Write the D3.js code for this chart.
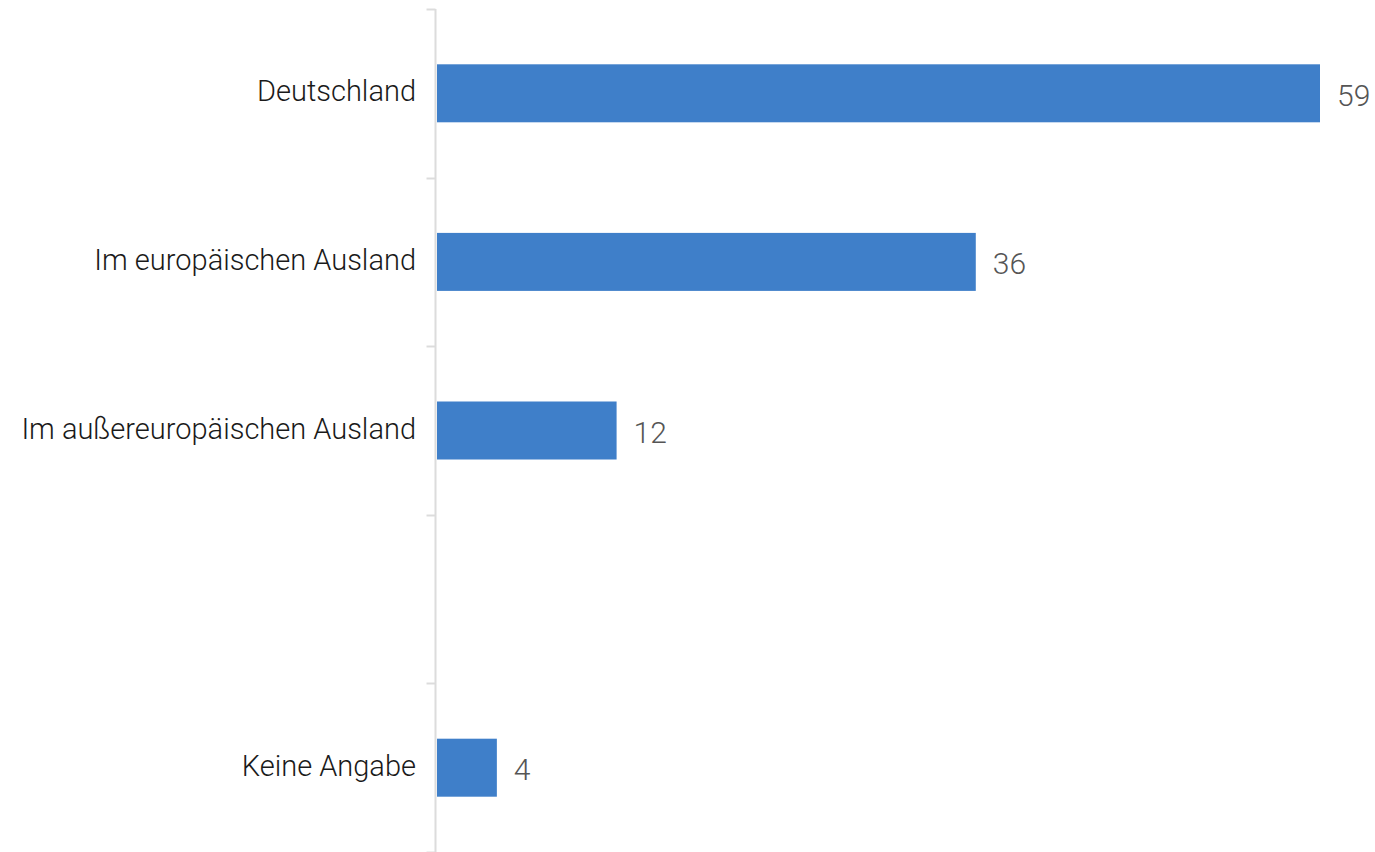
<!DOCTYPE html>
<html>
<head>
<meta charset="utf-8">
<script src="https://cdn.jsdelivr.net/npm/d3@7"></script>
<style>
  body { margin: 0; background: #fff; }
  text { font-family: Roboto, sans-serif; font-weight: 300; }
</style>
</head>
<body>
<script>
//chart data
var categories = ["Deutschland", "Im europäischen Ausland", "Im außereuropäischen Ausland", "", "Keine Angabe"];
var values = [59, 36, 12, null, 4];

var width = 1375,
    height = 852;

var svg = d3.select("body")
    .append("svg")
    .attr("width", width)
    .attr("height", height);

//band per category, the blank one leaves a gap
var y = d3.scaleBand()
    .domain(d3.range(categories.length))
    .range([9, 852])
    .paddingInner(0.656)
    .paddingOuter(0.328);

var x = d3.scaleLinear()
    .domain([0, 59])
    .range([437, 1320]);

var axisX = 435.5;

//axis line
svg.append("line")
    .attr("x1", axisX).attr("x2", axisX)
    .attr("y1", 9).attr("y2", height)
    .attr("stroke", "#dcdcdc")
    .attr("stroke-width", 2);

//tick marks at band boundaries
var step = y.step();
var bounds = d3.range(categories.length + 1).map(function(i){ return 9 + i * step; });
svg.selectAll(".tick-mark")
    .data(bounds)
    .enter()
    .append("line")
    .attr("class", "tick-mark")
    .attr("x1", axisX - 9).attr("x2", axisX)
    .attr("y1", function(d){ return Math.round(d) + 0.5; })
    .attr("y2", function(d){ return Math.round(d) + 0.5; })
    .attr("stroke", "#dcdcdc")
    .attr("stroke-width", 2);

//category labels
svg.selectAll(".cat")
    .data(categories)
    .enter()
    .append("text")
    .attr("class", "cat")
    .attr("x", 416)
    .attr("y", function(d, i){ return y(i) + y.bandwidth() / 2 - 2; })
    .attr("dy", "0.35em")
    .attr("text-anchor", "end")
    .attr("font-size", 29)
    .attr("fill", "#1a1a1a")
    .text(function(d){ return d; });

var rows = values.map(function(v, i){ return {i: i, v: v}; })
    .filter(function(d){ return d.v !== null; });

//bars
svg.selectAll(".bar")
    .data(rows)
    .enter()
    .append("rect")
    .attr("class", "bar")
    .attr("x", x(0))
    .attr("y", function(d){ return y(d.i); })
    .attr("width", function(d){ return x(d.v) - x(0); })
    .attr("height", y.bandwidth())
    .attr("fill", "#3f7fc9");

//value labels
svg.selectAll(".val")
    .data(rows)
    .enter()
    .append("text")
    .attr("class", "val")
    .attr("x", function(d){ return x(d.v) + 17; })
    .attr("y", function(d){ return y(d.i) + y.bandwidth() / 2 + 2; })
    .attr("dy", "0.35em")
    .attr("font-size", 30)
    .attr("fill", "#555")
    .text(function(d){ return d.v; });
</script>
</body>
</html>
